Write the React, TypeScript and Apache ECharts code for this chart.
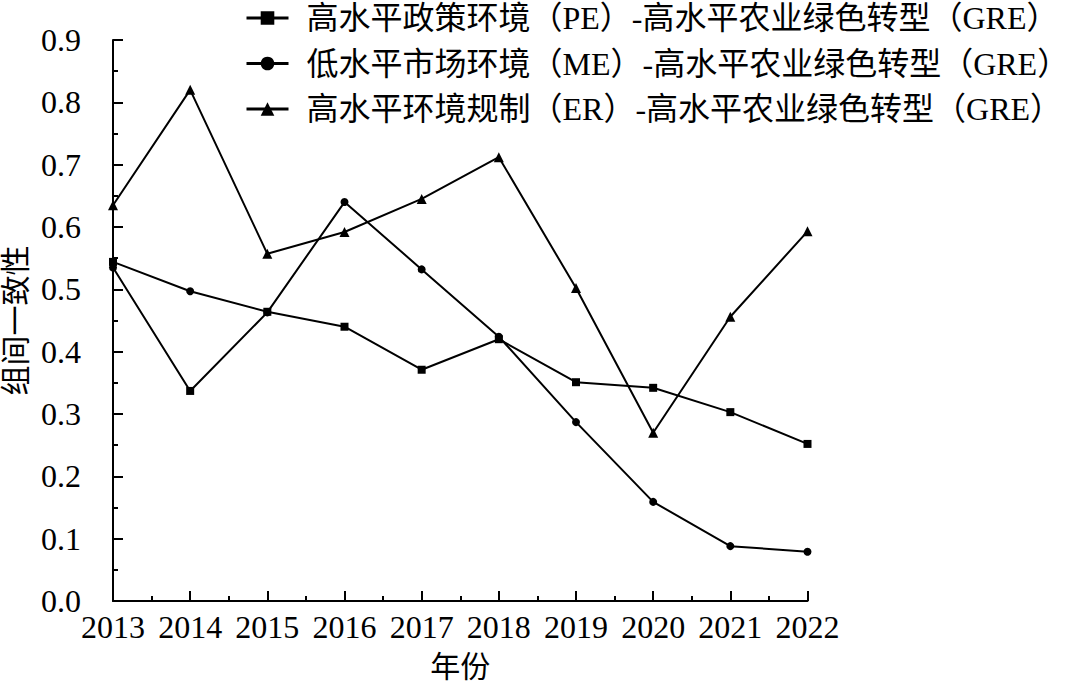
import React, { useEffect, useRef } from "react";
import * as echarts from "echarts";

const years = [2013, 2014, 2015, 2016, 2017, 2018, 2019, 2020, 2021, 2022];
const seriesNames = [
  "高水平政策环境（PE）-高水平农业绿色转型（GRE）",
  "低水平市场环境（ME）-高水平农业绿色转型（GRE）",
  "高水平环境规制（ER）-高水平农业绿色转型（GRE）",
];
const peValues = [0.544, 0.497, 0.464, 0.44, 0.371, 0.42, 0.351, 0.342, 0.303, 0.252];
const meValues = [0.535, 0.337, 0.463, 0.64, 0.532, 0.424, 0.287, 0.159, 0.088, 0.079];
const erValues = [0.635, 0.82, 0.557, 0.592, 0.645, 0.712, 0.502, 0.27, 0.456, 0.593];
const seriesSymbols = ["rect", "circle", "triangle"];
// marker drawn at 2014 in the original differs for the first two lines
const pointSymbolOverrides: Record<number, Record<number, string>> = {
  0: { 1: "circle" },
  1: { 1: "rect" },
};
const yAxisName = "组间一致性";
const xAxisName = "年份";

const FONT = "'Liberation Serif', 'Noto Sans CJK SC', serif";

export default function App() {
  const ref = useRef<HTMLDivElement>(null);
  useEffect(() => {
    if (!ref.current) return;
    const chart = echarts.init(ref.current, undefined, { renderer: "svg" });
    const allValues = [peValues, meValues, erValues];
    const series = allValues.map((vals, si) => ({
      name: seriesNames[si],
      type: "line",
      symbol: seriesSymbols[si],
      symbolSize: si === 2 ? 10 : 8,
      showSymbol: true,
      lineStyle: { color: "#000", width: 2 },
      itemStyle: { color: "#000" },
      data: vals.map((v, i) => {
        const ov = pointSymbolOverrides[si] && pointSymbolOverrides[si][i];
        return ov ? { value: [years[i], v], symbol: ov } : { value: [years[i], v] };
      }),
    }));
    chart.setOption({
      animation: false,
      backgroundColor: "#fff",
      textStyle: { fontFamily: FONT, color: "#000" },
      legend: {
        orient: "vertical",
        left: 245,
        top: 2,
        padding: 0,
        itemWidth: 42,
        itemHeight: 17,
        itemGap: 13.5,
        data: seriesNames.map((n) => ({ name: n, lineStyle: { width: 3 } })),
        textStyle: {
          fontFamily: FONT,
          fontSize: 32,
          lineHeight: 32,
          color: "#000",
          padding: [0, 0, 0, 13],
        },
      },
      grid: {
        left: 113,
        right: 272.5,
        top: 40,
        bottom: 81,
        containLabel: false,
        outerBoundsMode: "none",
      },
      xAxis: {
        type: "value",
        min: 2013,
        max: 2022,
        interval: 1,
        name: xAxisName,
        nameLocation: "middle",
        nameGap: 50,
        nameTextStyle: { fontFamily: FONT, fontSize: 30, color: "#000" },
        axisLine: { show: true, lineStyle: { color: "#000", width: 2 } },
        axisTick: { show: true, inside: true, length: 10, lineStyle: { color: "#000", width: 2 } },
        minorTick: { show: true, splitNumber: 2, length: 5, lineStyle: { color: "#000", width: 2 } },
        splitLine: { show: false },
        minorSplitLine: { show: false },
        axisLabel: {
          fontFamily: FONT,
          fontSize: 32,
          color: "#000",
          margin: 10,
          formatter: (v: number) => String(v),
        },
      },
      yAxis: {
        type: "value",
        min: 0,
        max: 0.9,
        interval: 0.1,
        name: yAxisName,
        nameLocation: "middle",
        nameGap: 83,
        nameRotate: 90,
        nameTextStyle: { fontFamily: FONT, fontSize: 30, color: "#000" },
        axisLine: { show: true, lineStyle: { color: "#000", width: 2 } },
        axisTick: { show: true, inside: true, length: 10, lineStyle: { color: "#000", width: 2 } },
        minorTick: { show: true, splitNumber: 2, length: 5, lineStyle: { color: "#000", width: 2 } },
        splitLine: { show: false },
        minorSplitLine: { show: false },
        axisLabel: {
          fontFamily: FONT,
          fontSize: 32,
          color: "#000",
          margin: 32,
          formatter: (v: number) => v.toFixed(1),
        },
      },
      series,
    });
    return () => chart.dispose();
  }, []);
  return (
    <div
      ref={ref}
      style={{ position: "absolute", left: 0, top: 0, width: 1080, height: 682, background: "#fff" }}
    />
  );
}
